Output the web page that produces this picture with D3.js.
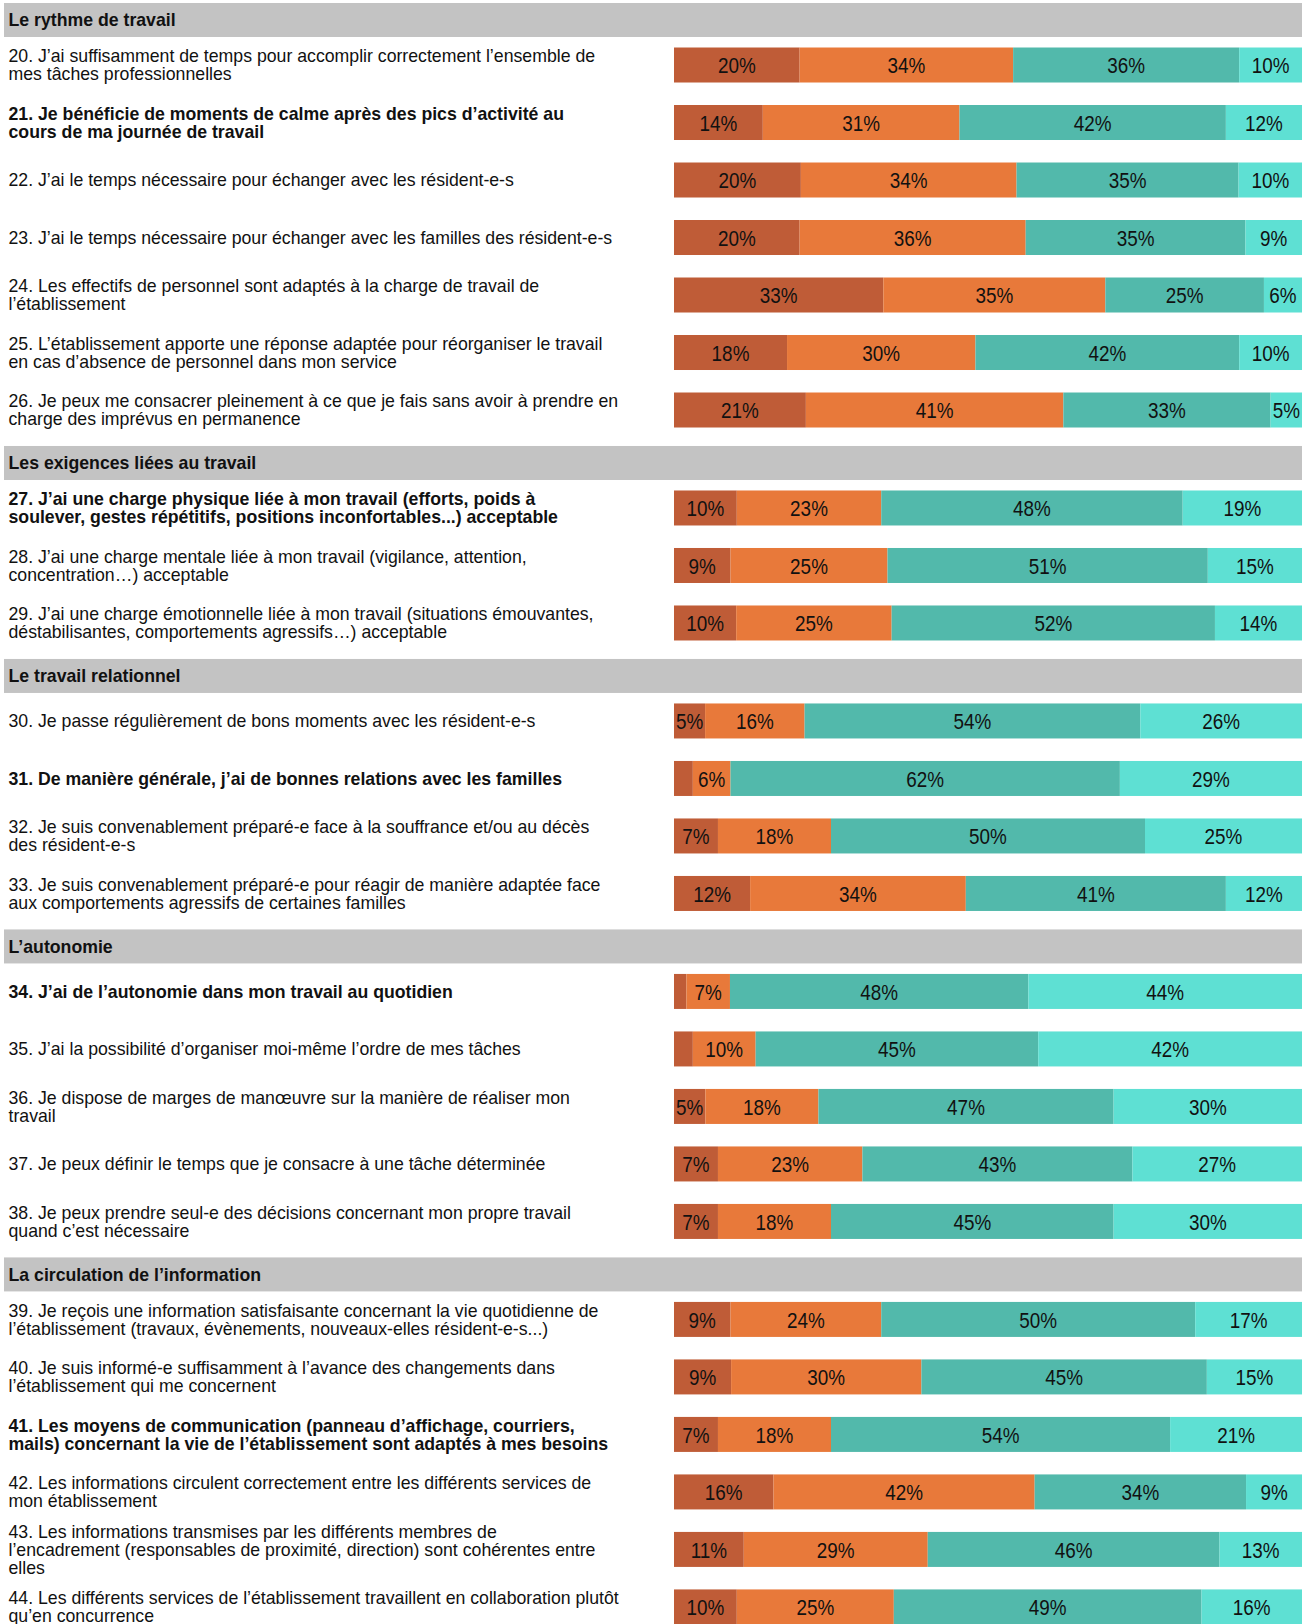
<!DOCTYPE html>
<html lang="fr">
<head>
<meta charset="UTF-8">
<script src="https://d3js.org/d3.v7.min.js"></script>
<style>
    body { margin: 0; background: #fff; }
    svg { display: block; font-family: "Liberation Sans", Arial, sans-serif; }
    .question { font-size: 17.7px; fill: #111; }
    .question.bold { font-weight: bold; }
    .section-title { font-size: 17.7px; font-weight: bold; fill: #111; }
    .pct { font-size: 22.5px; fill: #111; }
</style>
</head>
<body>
<svg id="canvas" width="1302" height="1624"></svg>
<script>
// sections and how many questions each holds
const sections = [
    "Le rythme de travail",
    "Les exigences liées au travail",
    "Le travail relationnel",
    "L’autonomie",
    "La circulation de l’information"
];
const sectionSizes = [7, 3, 4, 5, 6];

const questions = [
    ["20. J’ai suffisamment de temps pour accomplir correctement l’ensemble de", "mes tâches professionnelles"],
    ["21. Je bénéficie de moments de calme après des pics d’activité au", "cours de ma journée de travail"],
    ["22. J’ai le temps nécessaire pour échanger avec les résident-e-s"],
    ["23. J’ai le temps nécessaire pour échanger avec les familles des résident-e-s"],
    ["24. Les effectifs de personnel sont adaptés à la charge de travail de", "l’établissement"],
    ["25. L’établissement apporte une réponse adaptée pour réorganiser le travail", "en cas d’absence de personnel dans mon service"],
    ["26. Je peux me consacrer pleinement à ce que je fais sans avoir à prendre en", "charge des imprévus en permanence"],
    ["27. J’ai une charge physique liée à mon travail (efforts, poids à", "soulever, gestes répétitifs, positions inconfortables...) acceptable"],
    ["28. J’ai une charge mentale liée à mon travail (vigilance, attention,", "concentration…) acceptable"],
    ["29. J’ai une charge émotionnelle liée à mon travail (situations émouvantes,", "déstabilisantes, comportements agressifs…) acceptable"],
    ["30. Je passe régulièrement de bons moments avec les résident-e-s"],
    ["31. De manière générale, j’ai de bonnes relations avec les familles"],
    ["32. Je suis convenablement préparé-e face à la souffrance et/ou au décès", "des résident-e-s"],
    ["33. Je suis convenablement préparé-e pour réagir de manière adaptée face", "aux comportements agressifs de certaines familles"],
    ["34. J’ai de l’autonomie dans mon travail au quotidien"],
    ["35. J’ai la possibilité d’organiser moi-même l’ordre de mes tâches"],
    ["36. Je dispose de marges de manœuvre sur la manière de réaliser mon", "travail"],
    ["37. Je peux définir le temps que je consacre à une tâche déterminée"],
    ["38. Je peux prendre seul-e des décisions concernant mon propre travail", "quand c’est nécessaire"],
    ["39. Je reçois une information satisfaisante concernant la vie quotidienne de", "l’établissement (travaux, évènements, nouveaux-elles résident-e-s...)"],
    ["40. Je suis informé-e suffisamment à l’avance des changements dans", "l’établissement qui me concernent"],
    ["41. Les moyens de communication (panneau d’affichage, courriers,", "mails) concernant la vie de l’établissement sont adaptés à mes besoins"],
    ["42. Les informations circulent correctement entre les différents services de", "mon établissement"],
    ["43. Les informations transmises par les différents membres de", "l’encadrement (responsables de proximité, direction) sont cohérentes entre", "elles"],
    ["44. Les différents services de l’établissement travaillent en collaboration plutôt", "qu’en concurrence"]
];
const boldQuestions = [21, 27, 31, 34, 41];

// answer shares (%) per question, 20 -> 44
const pasDuTout   = [20, 14, 20, 20, 33, 18, 21, 10,  9, 10,  5,  3,  7, 12,  2,  3,  5,  7,  7,  9,  9,  7, 16, 11, 10];
const plutotPas   = [34, 31, 34, 36, 35, 30, 41, 23, 25, 25, 16,  6, 18, 34,  7, 10, 18, 23, 18, 24, 30, 18, 42, 29, 25];
const plutotOui   = [36, 42, 35, 35, 25, 42, 33, 48, 51, 52, 54, 62, 50, 41, 48, 45, 47, 43, 45, 50, 45, 54, 34, 46, 49];
const toutAFait   = [10, 12, 10,  9,  6, 10,  5, 19, 15, 14, 26, 29, 25, 12, 44, 42, 30, 27, 30, 17, 15, 21,  9, 13, 16];

const keys = ["pasDuTout", "plutotPas", "plutotOui", "toutAFait"];
const colors = ["#bf5c37", "#e8793a", "#52b9ab", "#5ee0d3"];

const svg = d3.select("#canvas");

// table for the stack
const rows = questions.map((q, i) => ({
    num: 20 + i,
    lines: q,
    pasDuTout: pasDuTout[i],
    plutotPas: plutotPas[i],
    plutotOui: plutotOui[i],
    toutAFait: toutAFait[i]
}));

// vertical layout in "row units"
const headerToBar = 0.774;   // header top -> first bar top
const barToHeader = 0.93;    // last bar top -> next header top
const headers = [];
let u = 0, qi = 0;
sections.forEach((s, si) => {
    headers.push({ name: s, u: u });
    u += headerToBar;
    for (let k = 0; k < sectionSizes[si]; k++) {
        rows[qi].u = u;
        qi++;
        if (k < sectionSizes[si] - 1) u += 1;
    }
    u += barToHeader;
});

const yScale = d3.scaleLinear().domain([0, 1]).range([3, 60.5]);
const xScale = d3.scaleLinear().domain([0, 1]).range([674, 1302]);
const color = d3.scaleOrdinal().domain(keys).range(colors);

const barH = 35;
const headerH = 34;

// section bands
const hg = svg.append("g").selectAll("g")
    .data(headers)
    .join("g")
    .attr("transform", d => `translate(0,${yScale(d.u)})`);

hg.append("rect")
    .attr("x", 4)
    .attr("width", 1302 - 4)
    .attr("height", headerH)
    .attr("fill", "#c3c3c3");

hg.append("text")
    .attr("class", "section-title")
    .attr("x", 8.5)
    .attr("y", headerH / 2)
    .attr("dy", "0.35em")
    .text(d => d.name);

// stacked bars
const stack = d3.stack().keys(keys).offset(d3.stackOffsetExpand);
const series = stack(rows);

const sg = svg.append("g").selectAll("g")
    .data(series)
    .join("g")
    .attr("fill", d => color(d.key));

sg.selectAll("rect")
    .data(d => d)
    .join("rect")
    .attr("x", d => xScale(d[0]))
    .attr("width", d => xScale(d[1]) - xScale(d[0]))
    .attr("y", d => yScale(d.data.u))
    .attr("height", barH);

// percent labels, narrow like the original
sg.selectAll("text")
    .data(d => d.map(v => ({ v: v, key: d.key })))
    .join("text")
    .filter(d => d.v.data[d.key] >= 5)
    .attr("class", "pct")
    .attr("text-anchor", "middle")
    .attr("transform", d => {
        const cx = (xScale(d.v[0]) + xScale(d.v[1])) / 2;
        const cy = yScale(d.v.data.u) + barH / 2;
        return `translate(${cx},${cy}) scale(0.84,1)`;
    })
    .attr("dy", "0.36em")
    .attr("fill", "#111")
    .text(d => d.v.data[d.key] + "%");

// question labels
const lineH = 17.8;
const qg = svg.append("g").selectAll("text")
    .data(rows)
    .join("text")
    .attr("class", d => boldQuestions.includes(d.num) ? "question bold" : "question")
    .attr("y", d => yScale(d.u) + barH / 2 - (d.lines.length - 1) * lineH / 2);

qg.selectAll("tspan")
    .data(d => d.lines)
    .join("tspan")
    .attr("x", 8.5)
    .attr("dy", (d, i) => i === 0 ? "0.36em" : lineH)
    .text(d => d);
</script>
</body>
</html>
